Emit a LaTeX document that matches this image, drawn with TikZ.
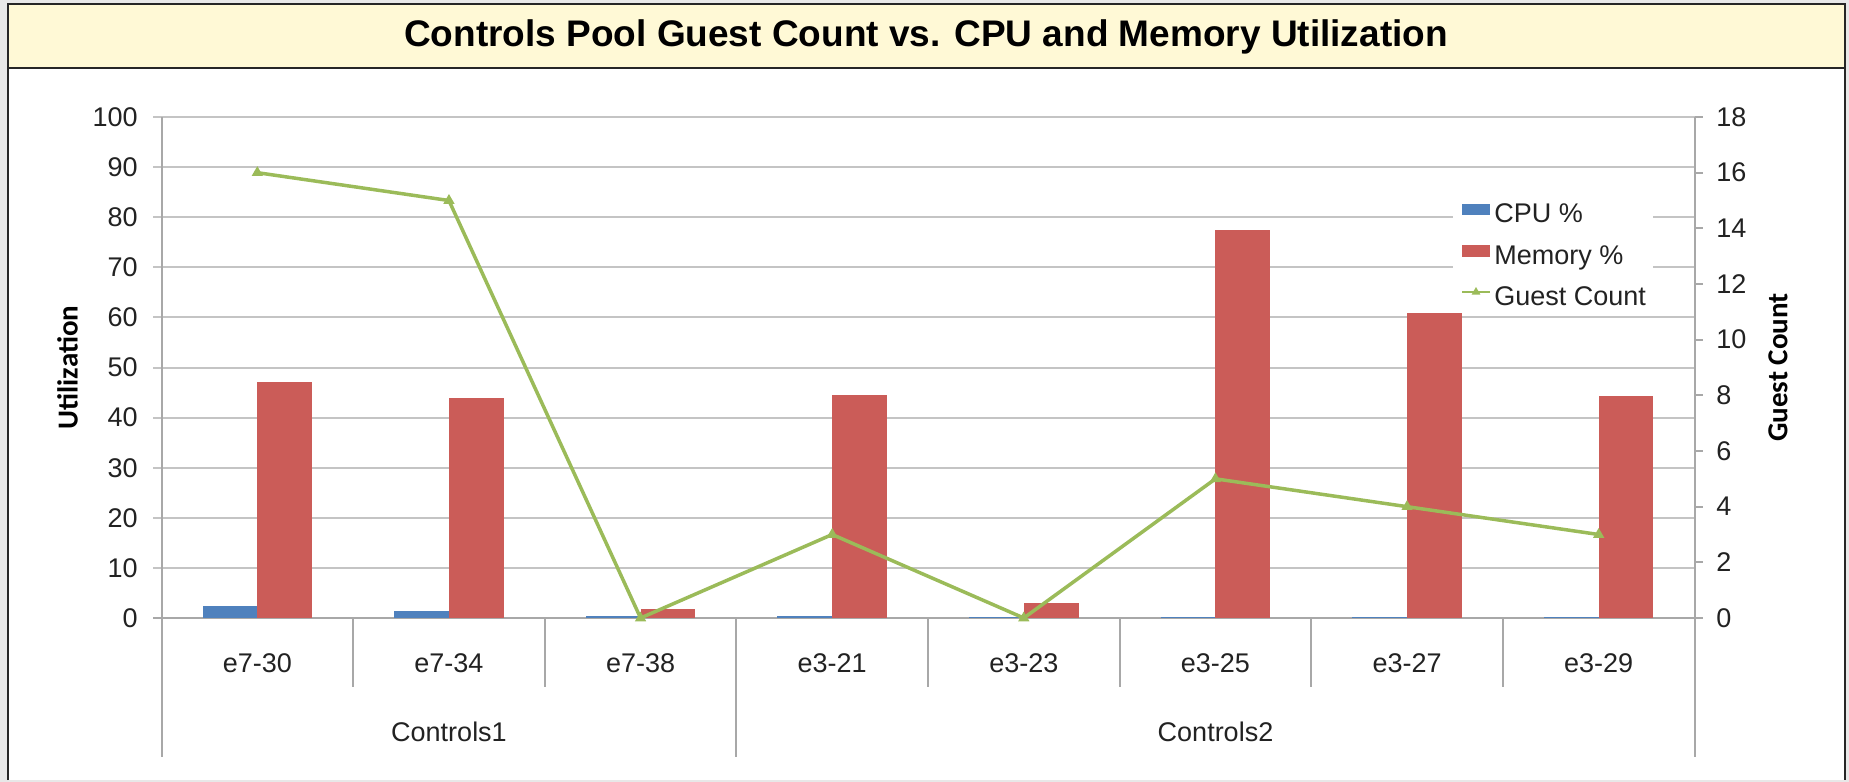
\documentclass[tikz,border=0pt]{standalone}
\usepackage{fontspec}
\setmainfont{Liberation Sans}
\newfontfamily\axisfont{Carlito}
\usetikzlibrary{shapes.geometric}

\definecolor{cpublue}{HTML}{4F81BD}
\definecolor{memred}{HTML}{CB5C58}
\definecolor{guestgreen}{HTML}{9BBB59}
\definecolor{gridgray}{HTML}{C4C4C4}
\definecolor{axisgray}{HTML}{A8A8A8}
\definecolor{titlefill}{HTML}{FFF9D6}
\definecolor{pagegray}{HTML}{E8E8E8}
\definecolor{inkgray}{HTML}{222222}

\tikzset{
  ticklabel/.style={font=\fontsize{13.5}{16}\selectfont, text=inkgray, inner sep=0pt},
  catlabel/.style={font=\fontsize{13.5}{16}\selectfont, text=inkgray, inner sep=0pt},
  axistitle/.style={font=\axisfont\bfseries\fontsize{14.5}{17}\selectfont, rotate=90, inner sep=0pt},
  legendtext/.style={font=\fontsize{13.5}{16}\selectfont, text=inkgray, inner sep=0pt, anchor=base west},
  gridline/.style={draw=gridgray, line width=1pt},
  axisline/.style={draw=axisgray, line width=1pt},
  guestline/.style={draw=guestgreen, line width=1.75pt, line join=round},
  guestmark/.style={regular polygon, regular polygon sides=3, fill=guestgreen, inner sep=0pt, minimum size=6.5pt},
}

\begin{document}
\begin{tikzpicture}[x={(0.5pt,0)}, y={(0,-0.5pt)}]
  \useasboundingbox (0,0) rectangle (1849,782);

  % page, frame and title band
  \fill[pagegray] (0,0) rectangle (1849,782);
  \fill[white] (8,4) rectangle (1845,780);
  \fill[titlefill] (8,4) rectangle (1845,68);
  \draw[black!85, line width=1.25pt] (8,780) -- (8,4) -- (1845,4) -- (1845,780);
  \draw[black!85, line width=1.25pt] (8,68) -- (1845,68);
  \node[font=\bfseries\fontsize{18.5}{22}\selectfont, inner sep=0pt] (title) at (926,37)
    {Controls Pool Guest Count vs. CPU and Memory Utilization};

  % horizontal grid with left tick labels (0 .. 100)
  \foreach \v in {10,20,...,100} {
    \path[gridline] (153,{618-5.01*\v}) -- (1694.5,{618-5.01*\v});
  }
  \path[axisline] (153,618) -- (1694.5,618);
  \foreach \v in {0,10,...,100} {
    \node[ticklabel, anchor=east] (yl\v) at (138,{618-5.01*\v}) {\v};
  }

  % right axis ticks and labels (0 .. 18)
  \foreach \g in {0,2,...,18} {
    \path[axisline] (1694.5,{618-27.833*\g}) -- (1703,{618-27.833*\g});
    \node[ticklabel, anchor=west] (yr\g) at (1716,{618-27.833*\g}) {\g};
  }

  % category separators and axes
  \foreach \k in {1,2,4,5,6,7} {
    \path[axisline] ({161.5+\k*191.625},618) -- ({161.5+\k*191.625},687);
  }
  \path[axisline] ({161.5+3*191.625},618) -- ({161.5+3*191.625},757);
  \path[axisline] (161.5,117) -- (161.5,757);
  \path[axisline] (1694.5,117) -- (1694.5,757);

  % bars, category labels and guest-count points
  \foreach \name/\cpu/\mem/\guest [count=\k] in
      {e7-30/2.4/47.2/16, e7-34/1.3/44.0/15, e7-38/0.5/1.8/0, e3-21/0.5/44.6/3,
       e3-23/0.3/3.0/0, e3-25/0.3/77.4/5, e3-27/0.3/60.8/4, e3-29/0.3/44.3/3} {
    \pgfmathsetmacro\cx{161.5+(\k-0.5)*191.625}
    \fill[cpublue] ({\cx-54.75},618) rectangle (\cx,{618-5.01*\cpu});
    \fill[memred] (\cx,618) rectangle ({\cx+54.75},{618-5.01*\mem});
    \node[catlabel] (cat\k) at (\cx,663) {\name};
    \coordinate (g\k) at (\cx,{618-27.833*\guest});
  }

  % group labels
  \node[catlabel] (grp1) at (449,732) {Controls1};
  \node[catlabel] (grp2) at (1215.5,732) {Controls2};

  % guest count series
  \draw[guestline] (g1) -- (g2) -- (g3) -- (g4) -- (g5) -- (g6) -- (g7) -- (g8);
  \foreach \k in {1,...,8} {
    \node[guestmark] (m\k) at (g\k) {};
  }

  % axis titles
  \node[axistitle] (ytitle) at (67.5,367.5) {Utilization};
  \node[axistitle] (y2title) at (1778,367.5) {Guest Count};

  % legend
  \fill[white] (1453,188) rectangle (1653,311);
  \fill[cpublue] (1462,204) rectangle (1490,215);
  \fill[memred] (1462,245) rectangle (1490,257);
  \coordinate (lgA) at (1462,292);
  \coordinate (lgB) at (1490,292);
  \draw[guestline, line width=1.25pt] (lgA) -- (lgB);
  \node[guestmark, minimum size=5pt] (lgm) at (1476,292) {};
  \node[legendtext] (lcpu) at (1494,222.5) {CPU \%};
  \node[legendtext] (lmem) at (1494,264) {Memory \%};
  \node[legendtext] (lguest) at (1494,305.5) {Guest Count};
\end{tikzpicture}
\end{document}
